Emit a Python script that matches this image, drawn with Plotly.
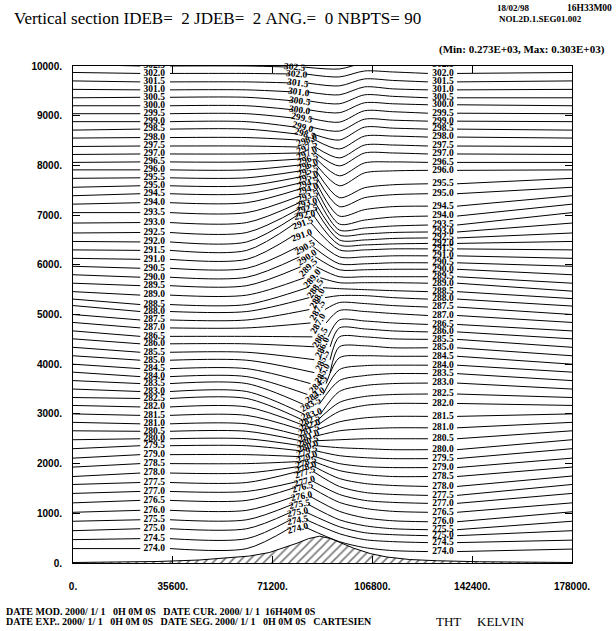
import plotly.graph_objects as go

# ---------------- data ----------------
levels = [274.0, 274.5, 275.0, 275.5, 276.0, 276.5, 277.0, 277.5, 278.0, 278.5,
          279.0, 279.5, 280.0, 280.5, 281.0, 281.5, 282.0, 282.5, 283.0, 283.5,
          284.0, 284.5, 285.0, 285.5, 286.0, 286.5, 287.0, 287.5, 288.0, 288.5,
          289.0, 289.5, 290.0, 290.5, 291.0, 291.5, 292.0, 292.5, 293.0, 293.5,
          294.0, 294.5, 295.0, 295.5, 296.0, 296.5, 297.0, 297.5, 298.0, 298.5,
          299.0, 299.5, 300.0, 300.5, 301.0, 301.5, 302.0, 302.5]

# height (m) of each isentrope at the left boundary (x = 0)
h_left_edge = [290, 470, 650, 840, 1020, 1210, 1400, 1580, 1740, 1930,
               2110, 2300, 2480, 2660, 2830, 3000, 3170, 3330, 3500, 3670,
               3840, 4000, 4170, 4340, 4510, 4670, 4840, 5000, 5180, 5310,
               5460, 5630, 5800, 5970, 6130, 6300, 6470, 6640, 6840, 7050,
               7220, 7390, 7560, 7740, 7910, 8060, 8220, 8380, 8550, 8710,
               8880, 9040, 9200, 9360, 9530, 9700, 9870, 10030]
# height at the upstream label (x ~ 29 km)
h_left_label = [290, 490, 690, 870, 1060, 1260, 1440, 1620, 1810, 2000,
                2180, 2360, 2500, 2650, 2800, 2970, 3140, 3310, 3450, 3610,
                3750, 3910, 4080, 4240, 4410, 4560, 4730, 4890, 5060, 5200,
                5390, 5580, 5750, 5930, 6110, 6290, 6460, 6650, 6850, 7050,
                7250, 7430, 7590, 7750, 7910, 8070, 8230, 8390, 8560, 8730,
                8880, 9040, 9200, 9370, 9520, 9680, 9850, 10000]
# position (km) and height (m) of the label near the mountain
x_mid_label = [80.4, 80.4, 80.4, 81.1, 81.8, 82.1, 82.9, 82.9, 83.2, 83.2,
               83.6, 83.6, 84.0, 84.0, 84.3, 84.3, 84.6, 84.6, 85.4, 85.0,
               86.4, 87.5, 88.9, 88.9, 88.9, 88.2, 87.5, 87.1, 87.1, 86.4,
               85.4, 84.0, 83.6, 82.9, 81.8, 82.1, 82.9, 83.6, 83.6, 84.0,
               84.0, 84.0, 84.0, 84.0, 84.0, 84.0, 83.6, 83.6, 83.6, 82.9,
               82.1, 81.8, 81.1, 81.1, 80.7, 80.4, 80.0, 79.3]
h_mid_label = [710, 870, 1020, 1180, 1340, 1520, 1640, 1840, 1940, 2040,
               2140, 2260, 2360, 2460, 2560, 2680, 2780, 2880, 2990, 3190,
               3390, 3610, 3830, 4090, 4350, 4550, 4830, 5100, 5340, 5540,
               5740, 5960, 6160, 6360, 6600, 6840, 7000, 7130, 7250, 7390,
               7530, 7650, 7770, 7890, 8010, 8130, 8250, 8370, 8510, 8630,
               8770, 8950, 9120, 9300, 9480, 9660, 9840, 9980]
ang_mid_label = [-15, -10, -10, -10, -10, -15, -15, -20, -20, -20,
                 -20, -20, -20, -20, -20, -20, -20, -20, -20, -30,
                 -35, -45, -60, -65, -65, -60, -60, -60, -60, -55,
                 -50, -45, -35, -30, -20, -20, -10, -10, -15, -20,
                 -20, -20, -20, -20, -20, -20, -25, -25, -20, 15,
                 15, 12, 8, 8, 8, 8, 5, 5]
# heights in the lee at x = 95 km, 104 km and 114 km
h_lee_95 = [430, 590, 730, 870, 1040, 1220, 1380, 1540, 1700, 1860,
            2000, 2160, 2320, 2480, 2660, 2840, 3050, 3230, 3450, 3670,
            3890, 4130, 4350, 4550, 4730, 4890, 5080, 5240, 5380, 5520,
            5640, 5760, 5900, 6020, 6160, 6300, 6400, 6500, 6600, 6700,
            6820, 6980, 7170, 7350, 7590, 7790, 7990, 8150, 8330, 8510,
            8690, 8870, 9060, 9240, 9420, 9600, 9780, 9940]
h_lee_104 = [310, 470, 610, 750, 910, 1100, 1260, 1420, 1600, 1780,
             1940, 2120, 2300, 2500, 2700, 2920, 3170, 3350, 3570, 3770,
             3970, 4170, 4370, 4550, 4710, 4870, 5060, 5220, 5380, 5500,
             5640, 5760, 5900, 6020, 6160, 6300, 6400, 6500, 6620, 6740,
             6900, 7110, 7350, 7550, 7850, 8050, 8250, 8410, 8590, 8770,
             8930, 9100, 9260, 9420, 9580, 9740, 9900, 10060]
h_lee_114 = [250, 430, 570, 690, 850, 1040, 1220, 1380, 1560, 1740,
             1920, 2100, 2280, 2500, 2720, 2950, 3210, 3390, 3610, 3810,
             3980, 4160, 4330, 4510, 4670, 4830, 5020, 5180, 5340, 5480,
             5640, 5760, 5910, 6040, 6180, 6320, 6420, 6530, 6650, 6780,
             6960, 7170, 7410, 7610, 7890, 8070, 8250, 8410, 8590, 8750,
             8910, 9080, 9240, 9390, 9540, 9710, 9880, 10040]
# height at the downstream label (x ~ 132 km)
h_right_label = [230, 410, 550, 670, 830, 1020, 1200, 1360, 1540, 1740,
                 1920, 2100, 2280, 2500, 2720, 2950, 3210, 3400, 3620, 3810,
                 3980, 4160, 4330, 4500, 4650, 4800, 4980, 5150, 5310, 5460,
                 5630, 5760, 5910, 6040, 6180, 6320, 6430, 6540, 6660, 6800,
                 6980, 7180, 7430, 7630, 7900, 8060, 8230, 8390, 8570, 8730,
                 8890, 9050, 9220, 9360, 9520, 9680, 9850, 10020]
# height at the right boundary (x = 178 km)
h_right_edge = [280, 460, 650, 840, 1030, 1210, 1400, 1580, 1750, 1930,
                2110, 2300, 2480, 2660, 2830, 3000, 3170, 3330, 3500, 3670,
                3840, 4000, 4170, 4340, 4510, 4670, 4840, 5000, 5170, 5320,
                5470, 5630, 5800, 5970, 6130, 6300, 6470, 6640, 6840, 7050,
                7220, 7390, 7560, 7740, 7910, 8060, 8220, 8380, 8550, 8710,
                8880, 9040, 9200, 9360, 9530, 9700, 9870, 10030]

# orography
mount_x = [0, 30000, 45000, 55000, 63000, 70000, 76000, 80000, 84000, 88000,
           92000, 96000, 100000, 106000, 112000, 120000, 130000, 145000, 178000]
mount_h = [10, 30, 60, 100, 140, 210, 320, 400, 490, 540,
           490, 400, 300, 190, 120, 70, 45, 25, 10]

x_ticks = [0, 35600, 71200, 106800, 142400, 178000]
x_tick_text = ["0.", "35600.", "71200.", "106800.", "142400.", "178000."]
y_ticks = [0, 1000, 2000, 3000, 4000, 5000, 6000, 7000, 8000, 9000, 10000]
y_tick_text = ["0.", "1000.", "2000.", "3000.", "4000.", "5000.", "6000.",
               "7000.", "8000.", "9000.", "10000."]

title_text = "Vertical section IDEB=  2 JDEB=  2 ANG.=  0 NBPTS= 90"
date_text = "18/02/98"
time_text = "16H33M00"
file_text = "NOL2D.1.SEG01.002"
minmax_text = "(Min: 0.273E+03, Max: 0.303E+03)"
foot1 = "DATE MOD. 2000/ 1/ 1   0H 0M 0S   DATE CUR. 2000/ 1/ 1  16H40M 0S"
foot2 = "DATE EXP.. 2000/ 1/ 1   0H 0M 0S   DATE SEG. 2000/ 1/ 1   0H 0M 0S   CARTESIEN"
var_name = "THT"
var_unit = "KELVIN"

# ---------------- figure ----------------
W, H = 616, 631
L, R, T, B = 73, 572, 66, 563.5


def px(x):
    return (x - L) / (R - L)


def py(y):
    return (B - y) / (B - T)


def nb(s):
    return s.replace(" ", "\u00a0")


XL_LAB = 29000
XR_LAB = 132000
LABEL_FONT = dict(family="Liberation Serif", size=9.5, color="black")

fig = go.Figure()

fig.add_trace(go.Scatter(
    x=mount_x, y=mount_h, mode="lines", fill="tozeroy",
    line=dict(color="black", width=1),
    fillcolor="white",
    fillpattern=dict(shape="/", size=6, solidity=0.3, fgcolor="black", bgcolor="white"),
    hoverinfo="skip", showlegend=False))

for i, lv in enumerate(levels):
    xc = x_mid_label[i] * 1000
    xs = [0, 24000, None,
          34600, 62000, xc - 2800, None,
          xc + 2800, 95000, 104000, 114000, 126600, None,
          137000, 178000]
    ys = [h_left_edge[i], h_left_label[i], None,
          h_left_label[i], h_left_label[i], h_mid_label[i], None,
          h_mid_label[i], h_lee_95[i], h_lee_104[i], h_lee_114[i], h_right_label[i], None,
          h_right_label[i], h_right_edge[i]]
    fig.add_trace(go.Scatter(x=xs, y=ys, mode="lines",
                             line=dict(color="black", width=1, shape="spline", smoothing=0.8),
                             connectgaps=False, hoverinfo="skip", showlegend=False))

lab = ["<b>%.1f</b>" % v for v in levels]
fig.add_trace(go.Scatter(x=[XL_LAB] * len(levels), y=h_left_label, mode="text", text=lab,
                         textfont=LABEL_FONT, cliponaxis=True, hoverinfo="skip", showlegend=False))
fig.add_trace(go.Scatter(x=[XR_LAB] * len(levels), y=h_right_label, mode="text", text=lab,
                         textfont=LABEL_FONT, cliponaxis=True, hoverinfo="skip", showlegend=False))

ann = []
for i, lv in enumerate(levels):
    ann.append(dict(x=x_mid_label[i] * 1000, y=h_mid_label[i], xref="x", yref="y",
                    text=lab[i], showarrow=False, textangle=ang_mid_label[i],
                    font=LABEL_FONT))

SERIF = "Liberation Serif"


def note(x, y, text, size, anchor="left", bold=True):
    t = nb(text)
    if bold:
        t = "<b>" + t + "</b>"
    return dict(x=px(x), y=py(y), xref="paper", yref="paper", xanchor=anchor,
                yanchor="middle", text=t, showarrow=False, borderpad=0,
                font=dict(family=SERIF, size=size, color="black"))


ann += [
    note(13, 18, title_text, 17, bold=False),
    note(496, 8, date_text, 9),
    note(566, 8, time_text, 9.5),
    note(498, 19, file_text, 9),
    note(606, 49, minmax_text, 11, anchor="right"),
    note(5, 612, foot1, 10),
    note(5, 622, foot2, 10),
    note(435, 622, var_name, 13, bold=False),
    note(476, 622, var_unit, 13, bold=False),
]

axis_common = dict(showgrid=False, zeroline=False, showline=True, linecolor="black",
                   linewidth=1, mirror="ticks", ticks="inside", ticklen=7,
                   tickcolor="black", tickwidth=1, automargin=False,
                   tickfont=dict(family="Liberation Sans", size=10, color="black"))

fig.update_layout(
    width=W, height=H,
    margin=dict(l=L, r=W - R, t=T, b=H - B),
    paper_bgcolor="white", plot_bgcolor="white",
    showlegend=False,
    annotations=ann,
    xaxis=dict(range=[0, 178000], tickvals=x_ticks, ticklabelstandoff=14,
               ticktext=["<b>%s</b>" % t for t in x_tick_text], **axis_common),
    yaxis=dict(range=[0, 10000], tickvals=y_ticks, ticklabelstandoff=8,
               ticktext=["<b>%s</b>" % t for t in y_tick_text], **axis_common),
)

fig.write_html("out.html",
               config={"displayModeBar": False, "staticPlot": True},
               post_script="document.body.style.margin='0px';"
                           "document.body.style.overflow='hidden';")
